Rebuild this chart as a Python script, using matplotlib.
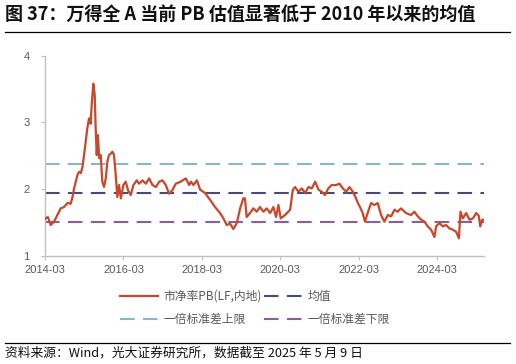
import matplotlib
matplotlib.use("Agg")
import matplotlib.pyplot as plt
import matplotlib.dates as mdates
import pandas as pd

plt.rcParams['font.family'] = ['Noto Sans CJK SC', 'DejaVu Sans']

# 万得全A 市净率 PB(LF, 内地)
dates = [
    "2014-03-01", "2014-03-07", "2014-03-28", "2014-04-23", "2014-05-24",
    "2014-06-24", "2014-07-25", "2014-08-25", "2014-09-26", "2014-10-27",
    "2014-11-12", "2014-11-27", "2014-12-13", "2014-12-28", "2015-01-13",
    "2015-01-29", "2015-02-13", "2015-02-28", "2015-03-15", "2015-03-30",
    "2015-04-15", "2015-04-30", "2015-05-10", "2015-05-25", "2015-06-07",
    "2015-06-16", "2015-06-26", "2015-07-07", "2015-07-19", "2015-08-02",
    "2015-08-17", "2015-09-02", "2015-09-18", "2015-10-03", "2015-10-18",
    "2015-11-04", "2015-11-19", "2015-12-04", "2015-12-20", "2016-01-04",
    "2016-01-20", "2016-02-06", "2016-02-29", "2016-03-22", "2016-04-13",
    "2016-05-08", "2016-06-02", "2016-07-03", "2016-07-24", "2016-08-25",
    "2016-09-26", "2016-10-26", "2016-11-26", "2016-12-28", "2017-01-28",
    "2017-02-28", "2017-03-30", "2017-04-30", "2017-05-30", "2017-07-01",
    "2017-08-17", "2017-10-03", "2017-11-03", "2017-11-20", "2017-12-13",
    "2018-01-14", "2018-02-14", "2018-03-31", "2018-05-16", "2018-07-02",
    "2018-08-18", "2018-09-18", "2018-10-19", "2018-11-19", "2018-12-20",
    "2019-01-21", "2019-02-21", "2019-03-22", "2019-04-07", "2019-04-23",
    "2019-05-24", "2019-06-24", "2019-07-25", "2019-08-25", "2019-09-26",
    "2019-10-27", "2019-11-27", "2019-12-28", "2020-01-22", "2020-02-13",
    "2020-03-05", "2020-04-15", "2020-06-01", "2020-06-26", "2020-07-17",
    "2020-08-17", "2020-09-18", "2020-10-18", "2020-11-19", "2020-12-20",
    "2021-01-20", "2021-02-20", "2021-03-22", "2021-04-22", "2021-05-22",
    "2021-06-23", "2021-08-03", "2021-09-03", "2021-10-05", "2021-11-05",
    "2021-12-05", "2022-01-06", "2022-01-30", "2022-02-22", "2022-03-14",
    "2022-04-08", "2022-04-29", "2022-05-24", "2022-06-25", "2022-07-25",
    "2022-08-26", "2022-09-26", "2022-10-27", "2022-11-28", "2022-12-29",
    "2023-01-29", "2023-02-28", "2023-03-30", "2023-05-16", "2023-07-02",
    "2023-08-02", "2023-09-03", "2023-10-04", "2023-11-04", "2023-12-05",
    "2024-01-05", "2024-02-05", "2024-02-21", "2024-03-22", "2024-04-23",
    "2024-05-23", "2024-06-24", "2024-07-25", "2024-08-25", "2024-09-20",
    "2024-10-05", "2024-10-27", "2024-11-27", "2024-12-28", "2025-01-29",
    "2025-02-28", "2025-03-24", "2025-04-07", "2025-04-25", "2025-05-09",
]
pb = [
    1.55, 1.56, 1.58, 1.46, 1.51,
    1.61, 1.71, 1.73, 1.79, 1.78,
    1.88, 2.01, 2.11, 2.21, 2.26,
    2.24, 2.33, 2.51, 2.71, 2.91,
    3.06, 2.98, 3.26, 3.58, 3.42,
    2.91, 2.51, 2.81, 2.46, 2.51,
    2.11, 2.03, 2.16, 2.41, 2.51,
    2.53, 2.56, 2.51, 2.21, 1.88,
    2.06, 1.86, 2.06, 2.11, 1.98,
    1.91, 2.06, 2.13, 2.08, 2.13,
    2.08, 2.16, 2.06, 2.03, 2.11,
    2.13, 2.06, 1.93, 1.98, 2.08,
    2.11, 2.16, 2.06, 2.11, 2.06,
    2.13, 1.99, 1.94, 1.84, 1.73,
    1.64, 1.56, 1.46, 1.48, 1.40,
    1.49, 1.71, 1.86, 1.86, 1.58,
    1.64, 1.71, 1.66, 1.73, 1.66,
    1.71, 1.64, 1.73, 1.58, 1.76,
    1.56, 1.61, 1.69, 1.99, 2.03,
    1.96, 2.01, 1.94, 2.03, 2.01,
    2.11, 1.99, 1.96, 1.91, 2.01,
    2.06, 2.06, 2.08, 2.01, 1.96,
    2.03, 1.96, 1.88, 1.79, 1.73,
    1.64, 1.51, 1.64, 1.79, 1.76,
    1.79, 1.61, 1.51, 1.61, 1.59,
    1.69, 1.66, 1.71, 1.64, 1.61,
    1.66, 1.59, 1.54, 1.51, 1.44,
    1.39, 1.28, 1.44, 1.49, 1.44,
    1.46, 1.41, 1.39, 1.36, 1.26,
    1.66, 1.56, 1.64, 1.54, 1.56,
    1.64, 1.60, 1.44, 1.54, 1.54,
]
mean_pb = 1.935
upper_pb = 2.37
lower_pb = 1.50

x_ticks = ["2014-03", "2016-03", "2018-03", "2020-03", "2022-03", "2024-03"]
y_ticks = [1, 2, 3, 4]

title = "图 37：万得全 A 当前 PB 估值显著低于 2010 年以来的均值"
source = "资料来源：Wind，光大证券研究所，数据截至 2025 年 5 月 9 日"

red = "#C9472A"
navy = "#4A4A78"
light_blue = "#86B6D0"
purple = "#8E5C9C"
grey = "#595959"

d = pd.to_datetime(dates)

fig = plt.figure(figsize=(5.16, 3.64), dpi=100)
ax = fig.add_axes([45 / 516, 1 - 255.7 / 364, (484 - 45) / 516, 200 / 364])

ax.plot(d, pb, color=red, lw=1.6, label="市净率PB(LF,内地)", zorder=3)
ax.axhline(mean_pb, color=navy, lw=1.5, dashes=(7, 4), label="均值")
ax.axhline(upper_pb, color=light_blue, lw=1.5, dashes=(7, 4), label="一倍标准差上限")
ax.axhline(lower_pb, color=purple, lw=1.5, dashes=(7, 4), label="一倍标准差下限")

ax.set_xlim(pd.Timestamp("2014-03-01"), pd.Timestamp("2025-05-12"))
ax.set_ylim(1, 4)
ax.set_yticks(y_ticks)
ax.set_xticks(pd.to_datetime(x_ticks))
ax.xaxis.set_major_formatter(mdates.DateFormatter("%Y-%m"))

for s in ["top", "right"]:
    ax.spines[s].set_visible(False)
for s in ["left", "bottom"]:
    ax.spines[s].set_color("#BFBFBF")
    ax.spines[s].set_linewidth(1.0)
ax.tick_params(axis="both", colors="#BFBFBF", labelcolor=grey, length=3,
               labelsize=8)
for lab in ax.get_xticklabels() + ax.get_yticklabels():
    lab.set_family(["Liberation Sans", "DejaVu Sans"])
ax.tick_params(axis="y", pad=8)

handles, labels = ax.get_legend_handles_labels()
order = [0, 2, 1, 3]
leg = fig.legend([handles[i] for i in order], [labels[i] for i in order],
                 ncol=2, loc="center left", bbox_to_anchor=(120 / 516, 1 - 308 / 364),
                 frameon=False, fontsize=8.5, handlelength=3.2, borderpad=0,
                 borderaxespad=0, handletextpad=0.45, columnspacing=0.25,
                 labelspacing=0.9)
for t in leg.get_texts():
    t.set_color(grey)

fig.text(5 / 516, 1 - 14 / 364, title, fontsize=13, fontweight="bold",
         va="center", ha="left", color="#111111")
fig.add_artist(plt.Line2D([5 / 516, 510 / 516], [1 - 32 / 364, 1 - 32 / 364],
                          color="black", lw=0.9))
fig.add_artist(plt.Line2D([5 / 516, 510 / 516], [1 - 343 / 364, 1 - 343 / 364],
                          color="black", lw=0.9))
fig.text(5 / 516, 1 - 353 / 364, source, fontsize=9.2, va="center", ha="left",
         color="#111111")

fig.savefig("out.png", dpi=100)
